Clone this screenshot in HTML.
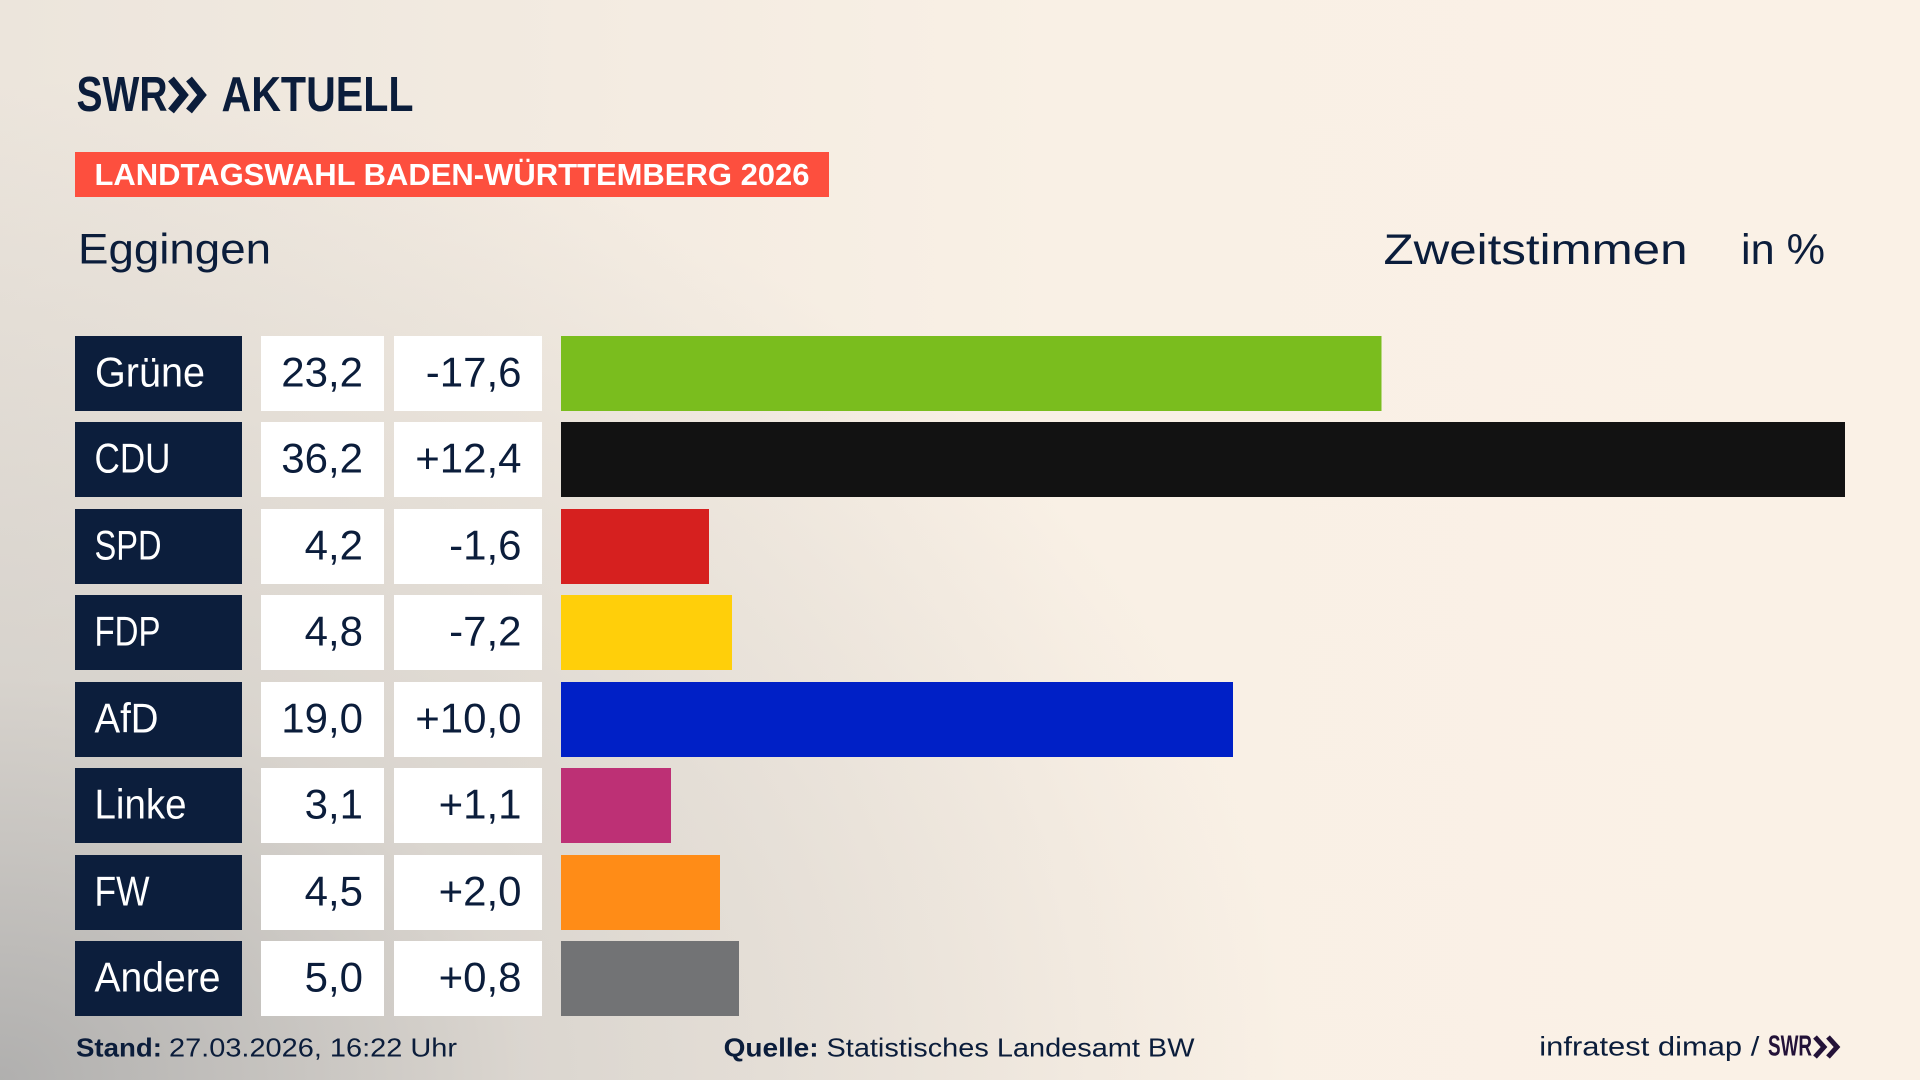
<!DOCTYPE html>
<html>
<head>
<meta charset="utf-8">
<style>
  html, body { margin:0; padding:0; }
  body {
    width:1920px; height:1080px; overflow:hidden;
    background:
      radial-gradient(ellipse 1300px 1000px at 0% 100%, rgba(168,168,168,0.88) 0%, rgba(195,193,190,0.5) 40%, rgba(230,225,218,0) 100%),
      linear-gradient(to right, #ECE5DC 0%, #F3EBE1 30%, #F9F0E5 55%, #FAF1E6 100%);
  }
  svg { display:block; }
  text { font-family: "Liberation Sans", "DejaVu Sans", sans-serif; }
</style>
</head>
<body>
<svg width="1920" height="1080" viewBox="0 0 1920 1080" xmlns="http://www.w3.org/2000/svg">
  <!-- Logo -->
  <text x="76.5" y="111" font-size="49" font-weight="bold" fill="#0B1D3B" textLength="91" lengthAdjust="spacingAndGlyphs">SWR</text>
  <polyline points="171,79 184,95 171,111" fill="none" stroke="#0B1D3B" stroke-width="7.5" stroke-linejoin="miter"/>
  <polyline points="189,79 202,95 189,111" fill="none" stroke="#0B1D3B" stroke-width="7.5" stroke-linejoin="miter"/>
  <text x="221.5" y="111" font-size="49" font-weight="bold" fill="#0B1D3B" textLength="192" lengthAdjust="spacingAndGlyphs">AKTUELL</text>

  <!-- Banner -->
  <rect x="75" y="152" width="754" height="45" fill="#FD4F3E"/>
  <text x="94.5" y="185" font-size="30.5" font-weight="bold" fill="#FFFFFF" textLength="715" lengthAdjust="spacingAndGlyphs">LANDTAGSWAHL BADEN-WÜRTTEMBERG 2026</text>

  <!-- Headings -->
  <text x="78" y="263.5" font-size="43" fill="#0B1D3B" textLength="193" lengthAdjust="spacingAndGlyphs">Eggingen</text>
  <text x="1383.5" y="264" font-size="43" fill="#0B1D3B" textLength="304" lengthAdjust="spacingAndGlyphs">Zweitstimmen</text>
  <text x="1741" y="264" font-size="43" fill="#0B1D3B" textLength="84" lengthAdjust="spacingAndGlyphs">in %</text>

  <!-- Rows -->
  <g>
    <!-- Grüne -->
    <rect x="75" y="336" width="167" height="75" fill="#0C1E3C"/>
    <text x="95" y="386.7" font-size="42" fill="#FFFFFF" textLength="110" lengthAdjust="spacingAndGlyphs">Grüne</text>
    <rect x="261" y="336" width="123" height="75" fill="#FFFFFF"/>
    <text x="363" y="386.7" font-size="42" fill="#0B1D3B" text-anchor="end">23,2</text>
    <rect x="394" y="336" width="148" height="75" fill="#FFFFFF"/>
    <text x="521.5" y="386.7" font-size="42" fill="#0B1D3B" text-anchor="end">-17,6</text>
    <rect x="561" y="336" width="820.5" height="75" fill="#7ABD1E"/>

    <!-- CDU -->
    <rect x="75" y="422" width="167" height="75" fill="#0C1E3C"/>
    <text x="94.5" y="472.7" font-size="42" fill="#FFFFFF" textLength="76" lengthAdjust="spacingAndGlyphs">CDU</text>
    <rect x="261" y="422" width="123" height="75" fill="#FFFFFF"/>
    <text x="363" y="472.7" font-size="42" fill="#0B1D3B" text-anchor="end">36,2</text>
    <rect x="394" y="422" width="148" height="75" fill="#FFFFFF"/>
    <text x="521.5" y="472.7" font-size="42" fill="#0B1D3B" text-anchor="end">+12,4</text>
    <rect x="561" y="422" width="1284" height="75" fill="#121212"/>

    <!-- SPD -->
    <rect x="75" y="509" width="167" height="75" fill="#0C1E3C"/>
    <text x="94.5" y="559.7" font-size="42" fill="#FFFFFF" textLength="67" lengthAdjust="spacingAndGlyphs">SPD</text>
    <rect x="261" y="509" width="123" height="75" fill="#FFFFFF"/>
    <text x="363" y="559.7" font-size="42" fill="#0B1D3B" text-anchor="end">4,2</text>
    <rect x="394" y="509" width="148" height="75" fill="#FFFFFF"/>
    <text x="521.5" y="559.7" font-size="42" fill="#0B1D3B" text-anchor="end">-1,6</text>
    <rect x="561" y="509" width="148" height="75" fill="#D6201F"/>

    <!-- FDP -->
    <rect x="75" y="595" width="167" height="75" fill="#0C1E3C"/>
    <text x="94.5" y="645.7" font-size="42" fill="#FFFFFF" textLength="66" lengthAdjust="spacingAndGlyphs">FDP</text>
    <rect x="261" y="595" width="123" height="75" fill="#FFFFFF"/>
    <text x="363" y="645.7" font-size="42" fill="#0B1D3B" text-anchor="end">4,8</text>
    <rect x="394" y="595" width="148" height="75" fill="#FFFFFF"/>
    <text x="521.5" y="645.7" font-size="42" fill="#0B1D3B" text-anchor="end">-7,2</text>
    <rect x="561" y="595" width="171" height="75" fill="#FFCF0A"/>

    <!-- AfD -->
    <rect x="75" y="682" width="167" height="75" fill="#0C1E3C"/>
    <text x="94.5" y="732.7" font-size="42" fill="#FFFFFF" textLength="64" lengthAdjust="spacingAndGlyphs">AfD</text>
    <rect x="261" y="682" width="123" height="75" fill="#FFFFFF"/>
    <text x="363" y="732.7" font-size="42" fill="#0B1D3B" text-anchor="end">19,0</text>
    <rect x="394" y="682" width="148" height="75" fill="#FFFFFF"/>
    <text x="521.5" y="732.7" font-size="42" fill="#0B1D3B" text-anchor="end">+10,0</text>
    <rect x="561" y="682" width="672" height="75" fill="#0020C6"/>

    <!-- Linke -->
    <rect x="75" y="768" width="167" height="75" fill="#0C1E3C"/>
    <text x="94.5" y="818.7" font-size="42" fill="#FFFFFF" textLength="92" lengthAdjust="spacingAndGlyphs">Linke</text>
    <rect x="261" y="768" width="123" height="75" fill="#FFFFFF"/>
    <text x="363" y="818.7" font-size="42" fill="#0B1D3B" text-anchor="end">3,1</text>
    <rect x="394" y="768" width="148" height="75" fill="#FFFFFF"/>
    <text x="521.5" y="818.7" font-size="42" fill="#0B1D3B" text-anchor="end">+1,1</text>
    <rect x="561" y="768" width="110" height="75" fill="#BD3075"/>

    <!-- FW -->
    <rect x="75" y="855" width="167" height="75" fill="#0C1E3C"/>
    <text x="94.5" y="905.7" font-size="42" fill="#FFFFFF" textLength="55" lengthAdjust="spacingAndGlyphs">FW</text>
    <rect x="261" y="855" width="123" height="75" fill="#FFFFFF"/>
    <text x="363" y="905.7" font-size="42" fill="#0B1D3B" text-anchor="end">4,5</text>
    <rect x="394" y="855" width="148" height="75" fill="#FFFFFF"/>
    <text x="521.5" y="905.7" font-size="42" fill="#0B1D3B" text-anchor="end">+2,0</text>
    <rect x="561" y="855" width="159" height="75" fill="#FF8C17"/>

    <!-- Andere -->
    <rect x="75" y="941" width="167" height="75" fill="#0C1E3C"/>
    <text x="94.5" y="991.7" font-size="42" fill="#FFFFFF" textLength="126" lengthAdjust="spacingAndGlyphs">Andere</text>
    <rect x="261" y="941" width="123" height="75" fill="#FFFFFF"/>
    <text x="363" y="991.7" font-size="42" fill="#0B1D3B" text-anchor="end">5,0</text>
    <rect x="394" y="941" width="148" height="75" fill="#FFFFFF"/>
    <text x="521.5" y="991.7" font-size="42" fill="#0B1D3B" text-anchor="end">+0,8</text>
    <rect x="561" y="941" width="178" height="75" fill="#727375"/>
  </g>

  <!-- Footer -->
  <text x="76" y="1056.5" font-size="26" font-weight="bold" fill="#0B1D3B" textLength="86" lengthAdjust="spacingAndGlyphs">Stand:</text>
  <text x="169" y="1056.5" font-size="26" fill="#0B1D3B" textLength="288" lengthAdjust="spacingAndGlyphs">27.03.2026, 16:22 Uhr</text>
  <text x="723.6" y="1056.5" font-size="26" font-weight="bold" fill="#0B1D3B" textLength="95" lengthAdjust="spacingAndGlyphs">Quelle:</text>
  <text x="826.5" y="1056.5" font-size="26" fill="#0B1D3B" textLength="368" lengthAdjust="spacingAndGlyphs">Statistisches Landesamt BW</text>
  <text x="1539.3" y="1055.7" font-size="27" fill="#0B1D3B" textLength="220" lengthAdjust="spacingAndGlyphs">infratest dimap /</text>
  <text x="1768" y="1055.7" font-size="29" font-weight="bold" fill="#231238" textLength="44" lengthAdjust="spacingAndGlyphs">SWR</text>
  <polyline points="1815,1037 1824,1047 1815,1057" fill="none" stroke="#231238" stroke-width="5"/>
  <polyline points="1828,1037 1837,1047 1828,1057" fill="none" stroke="#231238" stroke-width="5"/>
</svg>
</body>
</html>
